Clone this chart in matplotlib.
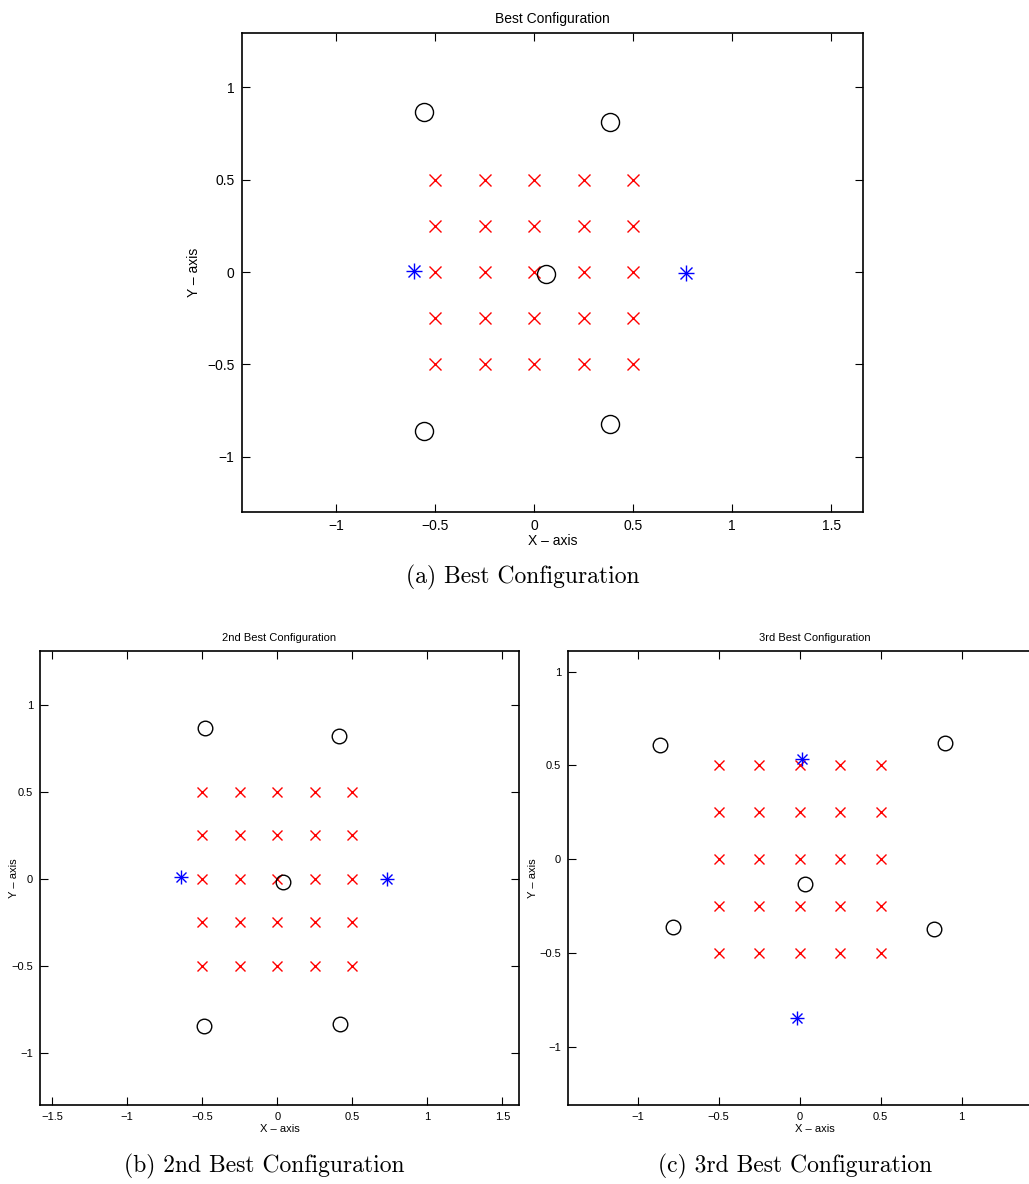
import numpy as np
import matplotlib
matplotlib.use("Agg")
import matplotlib.pyplot as plt

plt.rcParams['font.family'] = ['Liberation Sans', 'DejaVu Sans']

# fixed sensor grid, identical for all three configurations
grid_vals = [-0.5, -0.25, 0.0, 0.25, 0.5]

# (a) best configuration
best_circle_x = [-0.556, 0.384, 0.060, -0.556, 0.384]
best_circle_y = [0.867, 0.813, -0.010, -0.862, -0.824]
best_star_x = [-0.606, 0.768]
best_star_y = [0.005, -0.005]

# (b) 2nd best configuration
second_circle_x = [-0.479, 0.413, 0.040, -0.486, 0.419]
second_circle_y = [0.868, 0.822, -0.017, -0.845, -0.833]
second_star_x = [-0.639, 0.732]
second_star_y = [0.011, 0.000]

# (c) 3rd best configuration
third_circle_x = [-0.864, 0.895, 0.031, -0.784, 0.827]
third_circle_y = [0.608, 0.619, -0.133, -0.363, -0.373]
third_star_x = [0.012, -0.019]
third_star_y = [0.533, -0.848]

W, H = 1029, 1184
fig = plt.figure(figsize=(W / 100, H / 100), dpi=100)


def px_axes(left, top, right, bottom):
    return fig.add_axes([left / W, 1 - bottom / H, (right - left) / W, (bottom - top) / H])


def draw(ax, cx, cy, sx, sy, title, xlim, ylim, xticks, yticks, fs, sizes, ylab_x, xlab_y):
    xsize, osize, ssize = sizes
    gx, gy = np.meshgrid(grid_vals, grid_vals)
    ax.plot(gx.ravel(), gy.ravel(), 'x', color='#ff0000', ms=xsize, mew=1.0, ls='none')
    ax.plot(cx, cy, 'o', mfc='none', mec='black', ms=osize, mew=1.0, ls='none')
    ax.plot(sx, sy, '+', color='#0000ff', ms=ssize, mew=1.0, ls='none')
    ax.plot(sx, sy, 'x', color='#0000ff', ms=ssize * 0.75, mew=1.0, ls='none')
    ax.set_xlim(*xlim)
    ax.set_ylim(*ylim)
    ax.set_xticks(xticks)
    ax.set_yticks(yticks)
    ax.set_xticklabels([f'{t:g}'.replace('-', '\u2212') for t in xticks])
    ax.set_yticklabels([f'{t:g}'.replace('-', '\u2212') for t in yticks])
    ax.tick_params(direction='in', top=True, right=True, length=6, width=0.8,
                   labelsize=fs, pad=5)
    for s in ax.spines.values():
        s.set_linewidth(1.2)
    ax.set_title(title, fontsize=fs, pad=7)
    ax.set_xlabel('X \u2013 axis', fontsize=fs)
    ax.set_ylabel('Y \u2013 axis', fontsize=fs)
    ax.yaxis.set_label_coords(ylab_x, 0.5)
    ax.xaxis.set_label_coords(0.5, xlab_y)


ax1 = px_axes(241.5, 33, 863, 512)
draw(ax1, best_circle_x, best_circle_y, best_star_x, best_star_y,
     'Best Configuration', (-1.477, 1.66), (-1.30, 1.295),
     [-1, -0.5, 0, 0.5, 1, 1.5], [-1, -0.5, 0, 0.5, 1], 10, (8.6, 13, 12),
     -0.065, -0.046)

ax2 = px_axes(40, 651, 519, 1105)
draw(ax2, second_circle_x, second_circle_y, second_star_x, second_star_y,
     '2nd Best Configuration', (-1.58, 1.61), (-1.30, 1.31),
     [-1.5, -1, -0.5, 0, 0.5, 1, 1.5], [-1, -0.5, 0, 0.5, 1], 8, (7, 10.5, 10),
     -0.044, -0.042)

ax3 = px_axes(568, 651, 1062, 1105)
draw(ax3, third_circle_x, third_circle_y, third_star_x, third_star_y,
     '3rd Best Configuration', (-1.43, 1.62), (-1.31, 1.11),
     [-1, -0.5, 0, 0.5, 1], [-1, -0.5, 0, 0.5, 1], 8, (7, 10.5, 10),
     -0.061, -0.042)

cap = dict(fontfamily='cmr10', fontsize=17, ha='center', va='center')
fig.text(523 / W, 1 - 577 / H, '(a) Best Configuration', **cap)
fig.text(264 / W, 1 - 1166 / H, '(b) 2nd Best Configuration', **cap)
fig.text(795 / W, 1 - 1166 / H, '(c) 3rd Best Configuration', **cap)

fig.savefig('out.png', dpi=100)
